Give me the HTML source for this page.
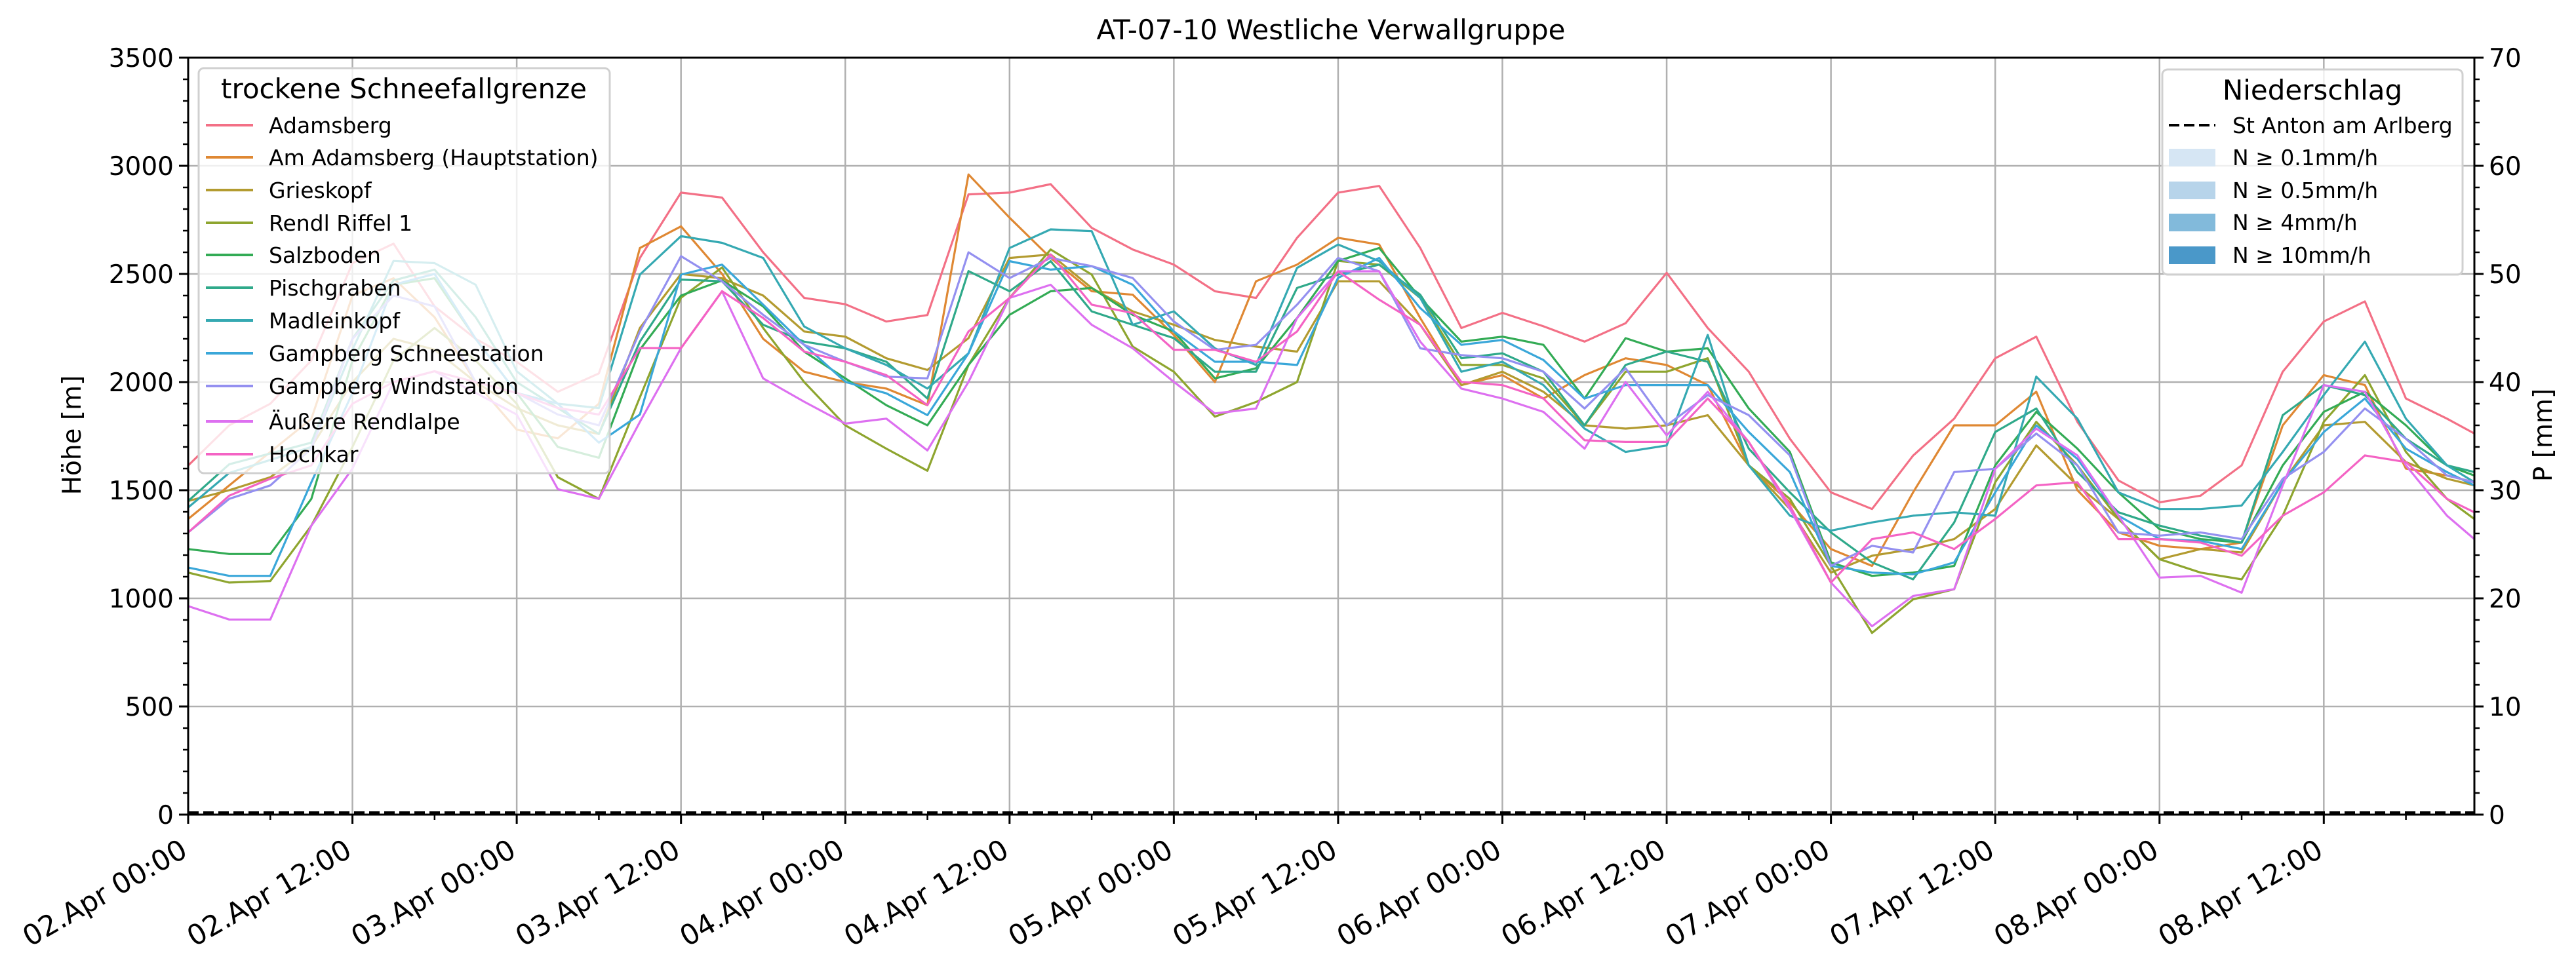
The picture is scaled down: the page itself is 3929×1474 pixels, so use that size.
<!DOCTYPE html>
<html><head><meta charset="utf-8"><style>
html,body{margin:0;padding:0;background:#fff;}
svg{display:block;font-family:"DejaVu Sans","Liberation Sans",sans-serif;}
</style></head><body>
<svg id="chart" width="3929" height="1474" viewBox="0 0 3929 1474" xmlns="http://www.w3.org/2000/svg">
<rect x="0" y="0" width="3929" height="1474" fill="#fff"/>
<text x="2030" y="60" font-size="42" text-anchor="middle">AT-07-10 Westliche Verwallgruppe</text>
<g id="grid"></g>
<g id="series"></g>
<g id="axes"></g>
<text transform="translate(123,664) rotate(-90)" font-size="39" text-anchor="middle">Höhe [m]</text>
<text transform="translate(3892,664) rotate(-90)" font-size="39" text-anchor="middle">P [mm]</text>
<g id="legend1"></g>
<g id="legend2"></g>
</svg>
<script>
const hours = [0,3,6,9,12,15,18,21,24,27,30,33,36,39,42,45,48,51,54,57,60,63,66,69,72,75,78,81,84,87,90,93,96,99,102,105,108,111,114,117,120,123,126,129,132,135,138,141,144,147,150,153,156,159,162,165,167];
const stationNames = ["Adamsberg","Am Adamsberg (Hauptstation)","Grieskopf","Rendl Riffel 1","Salzboden","Pischgraben","Madleinkopf","Gampberg Schneestation","Gampberg Windstation","Äußere Rendlalpe","Hochkar"];
const stationColors = ["#f37086","#df8833","#b39b30","#8ea52f","#33ab55","#2fa98a","#35a9b2","#3aa7d9","#9490f0","#dd70f0","#f463c4"];
const adamsberg = [1614,1800,1900,2100,2550,2640,2350,2200,2094,1955,2040,2574,2876,2853,2600,2389,2360,2280,2310,2868,2876,2915,2713,2613,2543,2420,2389,2667,2876,2907,2620,2250,2320,2258,2187,2272,2505,2250,2048,1738,1490,1413,1660,1831,2110,2210,1816,1545,1444,1475,1615,2048,2280,2373,1924,1831,1762];
const amAdamsberg = [1367,1522,1677,1830,2400,2480,2300,2000,1780,1740,1900,2620,2720,2500,2200,2048,2000,1970,1893,2960,2760,2574,2420,2404,2218,2000,2466,2543,2667,2636,2296,1986,2032,1924,2032,2110,2079,1986,1615,1444,1228,1150,1490,1800,1800,1955,1500,1305,1243,1228,1258,1800,2032,1986,1600,1568,1537];
const grieskopf = [1450,1500,1560,1700,2000,2200,2150,2000,1880,1800,1760,2250,2500,2480,2400,2234,2210,2110,2056,2203,2574,2590,2435,2327,2265,2195,2164,2141,2466,2466,2265,1986,2048,1955,1800,1785,1800,1847,1615,1413,1119,1197,1228,1274,1413,1707,1522,1367,1181,1228,1212,1537,1800,1816,1630,1553,1522];
const rendlRiffel = [1119,1073,1080,1336,1700,2100,2250,2100,1900,1560,1460,1930,2390,2530,2250,2000,1800,1692,1590,2079,2389,2613,2497,2164,2048,1840,1908,2000,2560,2543,2389,2079,2079,2017,1800,2048,2048,2110,1615,1460,1150,840,995,1042,1537,1816,1615,1367,1181,1119,1088,1382,1816,2032,1677,1460,1367];
const salzboden = [1228,1205,1205,1460,2100,2450,2480,2200,1950,1700,1650,2150,2400,2470,2350,2141,2017,1893,1800,2079,2311,2420,2435,2311,2234,2017,2064,2296,2560,2620,2389,2187,2210,2172,1924,2203,2141,2156,1878,1677,1166,1104,1119,1150,1615,1862,1692,1490,1320,1274,1258,1615,1862,1955,1800,1615,1568];
const pischgraben = [1450,1620,1670,1720,2200,2470,2520,2300,2000,1880,1760,2187,2474,2466,2265,2187,2156,2094,1924,2513,2420,2559,2327,2265,2203,2048,2048,2435,2497,2543,2404,2110,2133,2048,1800,2079,2141,2094,1692,1490,1305,1166,1088,1351,1769,1878,1584,1398,1336,1290,1258,1847,1986,1940,1738,1615,1584];
const madleinkopf = [1420,1580,1640,1700,2150,2560,2550,2450,2050,1900,1880,2497,2675,2644,2574,2257,2156,2079,1970,2133,2620,2706,2698,2265,2327,2156,2079,2528,2636,2559,2389,2048,2094,1986,1785,1677,1707,2218,1615,1382,1313,1351,1382,1398,1382,2025,1831,1490,1413,1413,1429,1677,1940,2187,1831,1615,1537];
const gampbergSchnee = [1142,1104,1104,1537,1950,2450,2500,2200,1950,1900,1720,1850,2497,2543,2358,2172,2001,1948,1847,2133,2559,2520,2536,2450,2234,2094,2094,2079,2482,2574,2342,2172,2195,2102,1924,1986,1986,1986,1769,1584,1150,1119,1111,1166,1490,1800,1645,1382,1274,1266,1228,1537,1769,1924,1692,1584,1522];
const gampbergWind = [1305,1460,1522,1692,2200,2400,2350,2000,1950,1850,1800,2234,2582,2466,2311,2172,2094,2025,2017,2600,2481,2574,2536,2481,2280,2149,2172,2358,2574,2512,2156,2125,2110,2048,1878,2064,1800,1940,1847,1661,1150,1243,1212,1584,1599,1762,1615,1305,1290,1305,1274,1553,1677,1878,1738,1568,1537];
const aeussereRendlalpe = [964,902,902,1336,1600,2000,2050,1950,1850,1505,1460,1816,2157,2420,2017,1909,1808,1831,1684,2001,2389,2450,2265,2156,2001,1855,1878,2296,2512,2512,2187,1970,1924,1862,1692,2001,1754,1955,1723,1413,1073,871,1011,1042,1599,1785,1661,1382,1096,1104,1026,1522,1986,1955,1615,1382,1274];
const hochkar = [1305,1475,1553,1615,1900,2000,2050,2000,1950,1880,1850,2157,2157,2420,2296,2141,2094,2032,1893,2234,2389,2590,2358,2319,2149,2149,2094,2234,2512,2381,2265,2001,1986,1924,1731,1723,1723,1924,1723,1429,1073,1274,1305,1228,1367,1522,1537,1274,1274,1258,1197,1382,1490,1661,1630,1460,1398];
const precipitation = [0,0,0,0,0,0,0,0,0,0,0,0,0,0,0,0,0,0,0,0,0,0,0,0,0,0,0,0,0,0,0,0,0,0,0,0,0,0,0,0,0,0,0,0,0,0,0,0,0,0,0,0,0,0,0,0,0];
const xTickLabels = ["02.Apr 00:00","02.Apr 12:00","03.Apr 00:00","03.Apr 12:00","04.Apr 00:00","04.Apr 12:00","05.Apr 00:00","05.Apr 12:00","06.Apr 00:00","06.Apr 12:00","07.Apr 00:00","07.Apr 12:00","08.Apr 00:00","08.Apr 12:00"];
const yTicks = [0,500,1000,1500,2000,2500,3000,3500];
const y2Ticks = [0,10,20,30,40,50,60,70];
const precipLegendLabels = ["N ≥ 0.1mm/h","N ≥ 0.5mm/h","N ≥ 4mm/h","N ≥ 10mm/h"];
const precipLegendColors = ["#d6e6f4","#b7d4ea","#82badb","#4a98c9"];

const NS = "http://www.w3.org/2000/svg";
const L = 287, R = 3774, T = 88, B = 1243;
const H0 = 0, H1 = 167;
function xScale(h){ return L + (h - H0) / (H1 - H0) * (R - L); }
function yScale(v){ return B - v / 3500 * (B - T); }
function y2Scale(v){ return B - v / 70 * (B - T); }
function mk(tag, attrs, parent){
  const e = document.createElementNS(NS, tag);
  for (const k in attrs) e.setAttribute(k, attrs[k]);
  parent.appendChild(e);
  return e;
}
const grid = document.getElementById('grid');
const axes = document.getElementById('axes');
const seriesG = document.getElementById('series');

xTickLabels.forEach((lab, i) => {
  const x = xScale(i * 12);
  const g = mk('line', {x1:x, x2:x, y1:T, y2:B, stroke:'#b0b0b0', 'stroke-width':2.5}, grid);
  
  
});
yTicks.forEach(v => {
  const y = yScale(v);
  const g = mk('line', {x1:L, x2:R, y1:y, y2:y, stroke:'#b0b0b0', 'stroke-width':2.5}, grid);
  
  
});

const allSeries = [adamsberg, amAdamsberg, grieskopf, rendlRiffel, salzboden, pischgraben, madleinkopf, gampbergSchnee, gampbergWind, aeussereRendlalpe, hochkar];
allSeries.forEach((vals, si) => {
  const pts = vals.map((v, i) => xScale(hours[i]).toFixed(1) + ',' + yScale(v).toFixed(1)).join(' ');
  const p = mk('polyline', {points:pts, fill:'none', stroke:stationColors[si], 'stroke-width':3.2, 'stroke-linejoin':'round'}, seriesG);
  
  
});
{
  const pts = precipitation.map((v, i) => xScale(hours[i]).toFixed(1) + ',' + (y2Scale(v) - 3).toFixed(1)).join(' ');
  const p = mk('polyline', {points:pts, fill:'none', stroke:'#000', 'stroke-width':4, 'stroke-dasharray':'16,7'}, seriesG);
  
  
}

const frame = mk('rect', {x:L, y:T, width:R-L, height:B-T, fill:'none', stroke:'#000', 'stroke-width':3}, axes);



yTicks.forEach(v => {
  const y = yScale(v);
  mk('line', {x1:L-14, x2:L, y1:y, y2:y, stroke:'#000', 'stroke-width':3}, axes);
  const t = mk('text', {x:L-22, y:y+14, 'font-size':39, 'text-anchor':'end'}, axes);
  t.textContent = v;
  
  
});
for (let v = 100; v < 3500; v += 100) {
  if (v % 500 === 0) continue;
  const y = yScale(v);
  mk('line', {x1:L-8, x2:L, y1:y, y2:y, stroke:'#000', 'stroke-width':2.5}, axes);
}
y2Ticks.forEach(v => {
  const y = y2Scale(v);
  mk('line', {x1:R, x2:R+14, y1:y, y2:y, stroke:'#000', 'stroke-width':3}, axes);
  const t = mk('text', {x:R+22, y:y+14, 'font-size':39, 'text-anchor':'start'}, axes);
  t.textContent = v;
  
  
});
for (let v = 2; v < 70; v += 2) {
  if (v % 10 === 0) continue;
  const y = y2Scale(v);
  mk('line', {x1:R, x2:R+8, y1:y, y2:y, stroke:'#000', 'stroke-width':2.5}, axes);
}
xTickLabels.forEach((lab, i) => {
  const x = xScale(i * 12);
  mk('line', {x1:x, x2:x, y1:B, y2:B+14, stroke:'#000', 'stroke-width':3}, axes);
  const t = mk('text', {x:x-14, y:1278, 'font-size':43, 'text-anchor':'end', 'dominant-baseline':'hanging', transform:'rotate(-30 ' + (x-14) + ' 1278)'}, axes);
  t.textContent = lab;
  
  
});
for (let h = 6; h < 167; h += 12) {
  const x = xScale(h);
  mk('line', {x1:x, x2:x, y1:B, y2:B+8, stroke:'#000', 'stroke-width':2.5}, axes);
}

const lg1 = document.getElementById('legend1');
{
  const box = mk('rect', {x:303, y:104, width:627, height:618, rx:8, fill:'rgba(255,255,255,0.8)', stroke:'#d0d0d0', 'stroke-width':3}, lg1);
  
  
  const tt = mk('text', {x:616, y:150, 'font-size':42, 'text-anchor':'middle'}, lg1);
  tt.textContent = 'trockene Schneefallgrenze';
  
  
  const ys = [191,240,290,340,389,439,489,539,589,643,693];
  stationNames.forEach((n, i) => {
    const g = mk('g', {}, lg1);
    
    
    mk('line', {x1:314, x2:386, y1:ys[i], y2:ys[i], stroke:stationColors[i], 'stroke-width':4}, g);
    const t = mk('text', {x:410, y:ys[i]+12, 'font-size':33}, g);
    t.textContent = n;
  });
}
const lg2 = document.getElementById('legend2');
{
  const box = mk('rect', {x:3298, y:106, width:458, height:313, rx:8, fill:'rgba(255,255,255,0.8)', stroke:'#d0d0d0', 'stroke-width':3}, lg2);
  
  
  const tt = mk('text', {x:3527, y:152, 'font-size':42, 'text-anchor':'middle'}, lg2);
  tt.textContent = 'Niederschlag';
  
  
  const g0 = mk('g', {}, lg2);
  
  
  mk('line', {x1:3308, x2:3379, y1:191, y2:191, stroke:'#000', 'stroke-width':4, 'stroke-dasharray':'16,7'}, g0);
  const t0 = mk('text', {x:3405, y:203, 'font-size':33}, g0);
  t0.textContent = 'St Anton am Arlberg';
  const ys = [240,290,339,389];
  precipLegendLabels.forEach((n, i) => {
    const g = mk('g', {}, lg2);
    
    
    mk('rect', {x:3308, y:ys[i]-13, width:71, height:27, fill:precipLegendColors[i]}, g);
    const t = mk('text', {x:3405, y:ys[i]+12, 'font-size':33}, g);
    t.textContent = n;
  });
}
</script>
</body></html>
